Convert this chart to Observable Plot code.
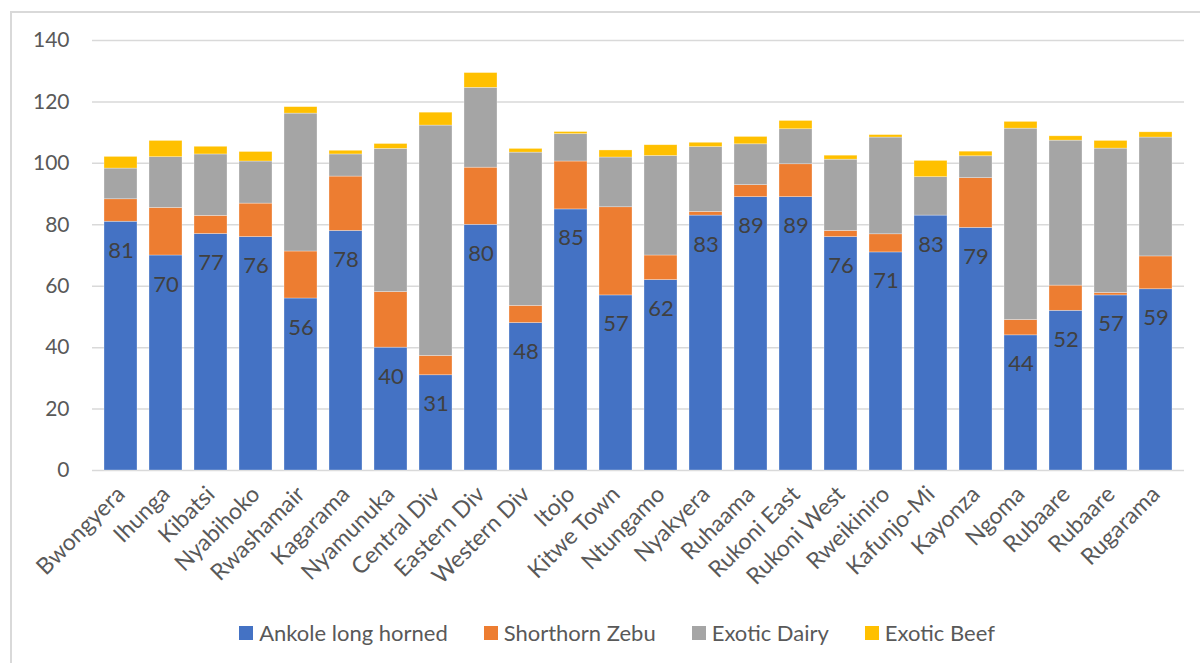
<!DOCTYPE html>
<html>
<head>
<meta charset="utf-8">
<script src="https://cdn.jsdelivr.net/npm/d3@7"></script>
<script src="https://cdn.jsdelivr.net/npm/@observablehq/plot@0.6"></script>
<style>
  html, body { margin: 0; padding: 0; background: #fff; overflow: hidden; }
  body { width: 1200px; height: 663px; position: relative; font-family: Lato, "Open Sans", sans-serif; }
  #frame { position: absolute; left: 10px; top: 11px; width: 1210px; height: 670px; border: 2px solid #d9d9d9; box-sizing: border-box; }
  #chart { position: absolute; left: 0; top: 0; }
  #legend { position: absolute; left: 0; top: 619px; width: 1234px; display: flex; justify-content: center; gap: 36px; font-size: 22px; color: #595959; }
  .item { display: flex; align-items: center; }
  .swatch { width: 14px; height: 14px; margin-right: 6px; }
</style>
</head>
<body>
<div id="frame"></div>
<div id="chart"></div>
<div id="legend"></div>
<script>
// Sub-counties / divisions
const districts = ["Bwongyera","Ihunga","Kibatsi","Nyabihoko","Rwashamair","Kagarama","Nyamunuka","Central Div","Eastern Div","Western Div","Itojo","Kitwe Town","Ntungamo","Nyakyera","Ruhaama","Rukoni East","Rukoni West","Rweikiniro","Kafunjo-Mi","Kayonza","Ngoma","Rubaare","Rubaare","Rugarama"];

// Cattle breed counts per area
const ankole    = [81,70,77,76,56,78,40,31,80,48,85,57,62,83,89,89,76,71,83,79,44,52,57,59];
const shorthorn = [7.3,15.5,5.9,10.9,15.3,17.7,18.1,6.3,18.6,5.6,15.6,28.7,8,1.2,3.9,10.7,2,5.9,0,16.2,5,8.2,0.8,10.7];
const dairy     = [10,16.5,20,13.7,44.9,7.2,46.6,75,26,49.9,8.9,16.2,32.4,21.1,13.3,11.4,23.2,31.5,12.5,7.1,62.3,47.2,47,38.7];
const beef      = [3.8,5.3,2.5,3.1,2.1,1.2,1.6,4.2,4.8,1.2,0.7,2.3,3.5,1.4,2.4,2.7,1.3,0.8,5.3,1.5,2.2,1.4,2.5,1.7];

const breeds = ["Ankole long horned","Shorthorn Zebu","Exotic Dairy","Exotic Beef"];
const colors = ["#4472C4","#ED7D31","#A5A5A5","#FFC000"];
const yTicks = [0,20,40,60,80,100,120,140];

const series = [ankole, shorthorn, dairy, beef];
const rows = [];
series.forEach((vals, s) => vals.forEach((v, i) => rows.push({i, breed: breeds[s], value: v})));
const labelRows = ankole.map((v, i) => ({i, value: v}));

const chart = Plot.plot({
  width: 1200,
  height: 600,
  marginTop: 40,
  marginBottom: 130,
  marginLeft: 92,
  marginRight: 16,
  style: {fontFamily: "Lato, 'Open Sans', sans-serif", background: "transparent", color: "#595959"},
  x: {domain: d3.range(districts.length), paddingInner: 0.27, paddingOuter: 0.135, label: null},
  y: {domain: [0, 140], label: null},
  color: {domain: breeds, range: colors},
  marks: [
    Plot.gridY(yTicks, {stroke: "#d9d9d9", strokeOpacity: 1, strokeWidth: 1.5}),
    Plot.barY(rows, {x: "i", y: "value", fill: "breed", order: breeds, stroke: "#ffffff", strokeWidth: 0.6, strokeOpacity: 0.5}),
    Plot.text(labelRows, {x: "i", y: "value", text: d => String(d.value), dy: 29, fill: "#404040", fontSize: 22}),
    Plot.axisY(yTicks, {tickSize: 0, tickPadding: 23, fontSize: 21, fill: "#595959", label: null}),
    Plot.axisX({tickSize: 0, tickPadding: 20, tickRotate: -45, fontSize: 23, fill: "#595959", label: null, tickFormat: i => districts[i]})
  ]
});
document.getElementById("chart").appendChild(chart);

const legend = document.getElementById("legend");
breeds.forEach((b, k) => {
  const item = document.createElement("div");
  item.className = "item";
  const sw = document.createElement("span");
  sw.className = "swatch";
  sw.style.background = colors[k];
  const t = document.createElement("span");
  t.textContent = b;
  item.appendChild(sw);
  item.appendChild(t);
  legend.appendChild(item);
});
</script>
</body>
</html>
